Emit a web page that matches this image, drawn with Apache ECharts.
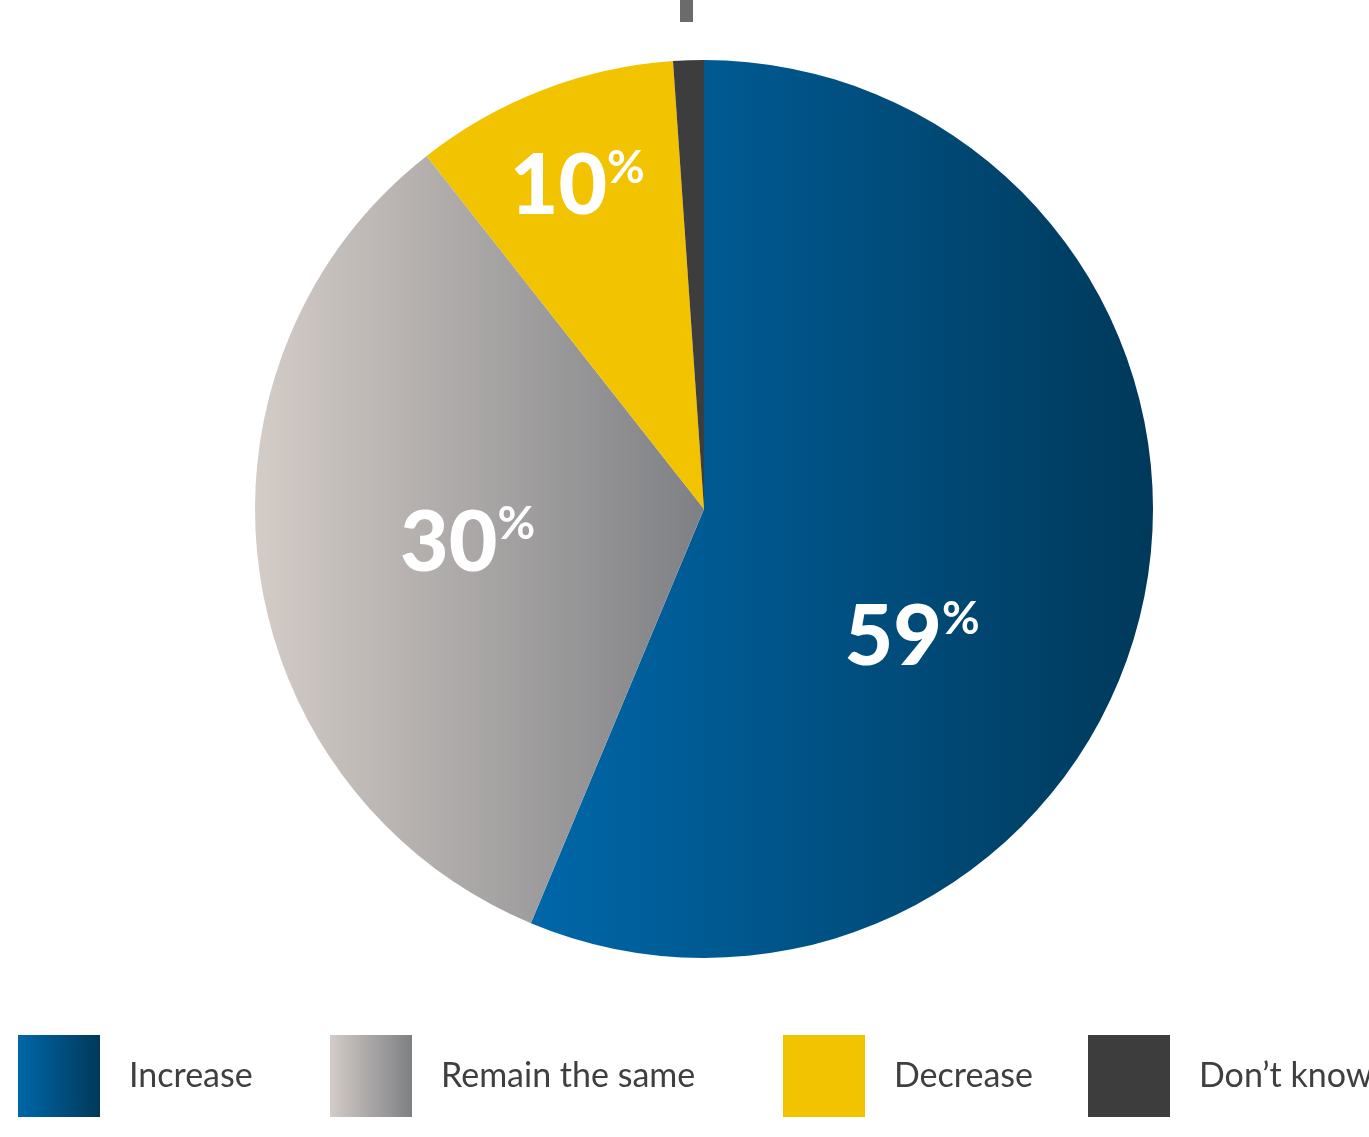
<!DOCTYPE html>
<html>
<head>
<meta charset="utf-8">
<script src="https://cdn.jsdelivr.net/npm/echarts@6/dist/echarts.min.js"></script>
<style>
html,body{margin:0;padding:0;background:#fff;}
#chart{width:1369px;height:1137px;}
</style>
</head>
<body>
<div id="chart"></div>
<script>
// Data
var categories = ['Increase', 'Remain the same', 'Decrease', 'Don\u2019t know'];
var shares = [56.3, 33.1, 9.5, 1.1];          // slice sizes as drawn
var labelTexts = ['59', '30', '10', ''];      // printed percentage labels

var fills = [
  {type:'linear', x:0, y:0, x2:1, y2:0, colorStops:[{offset:0,color:'#0067a9'},{offset:1,color:'#00395a'}]},
  {type:'linear', x:0, y:0, x2:1, y2:0, colorStops:[{offset:0,color:'#d4ccc7'},{offset:1,color:'#7e8084'}]},
  '#f2c300',
  '#3d3d3d'
];
var labelOffsets = [[-15, 84], [-11, 4], [-45, -110], [0, 0]];
var legendLefts = [18, 330, 783, 1088];

var chart = echarts.init(document.getElementById('chart'), null, {renderer:'canvas'});

var data = categories.map(function (c, i) {
  return {
    name: c,
    value: shares[i],
    itemStyle: {color: fills[i]},
    label: {
      show: labelTexts[i] !== '',
      offset: labelOffsets[i],
      formatter: '{n|' + labelTexts[i] + '}{p|%}'
    }
  };
});

var legends = categories.map(function (c, i) {
  return {
    data: [{name: c, icon: 'rect'}],
    left: legendLefts[i],
    top: 1035,
    padding: 0,
    itemWidth: 82,
    itemHeight: 82,
    selectedMode: false,
    textStyle: {
      fontFamily: 'Lato',
      fontSize: 34,
      color: '#3f3f3f',
      padding: [0, 0, 0, 24]
    }
  };
});

chart.setOption({
  animation: false,
  backgroundColor: '#ffffff',
  legend: legends,
  graphic: [{
    type: 'rect',
    shape: {x: 680, y: 0, width: 13, height: 22},
    style: {fill: '#6b6b6b'}
  }],
  series: [{
    type: 'pie',
    center: [704, 509],
    radius: [0, 449],
    startAngle: 90,
    clockwise: true,
    avoidLabelOverlap: false,
    emphasis: {disabled: true},
    label: {
      position: 'inside',
      rich: {
        n: {fontFamily: 'Lato', fontWeight: 900, fontSize: 84, color: '#ffffff', lineHeight: 84},
        p: {fontFamily: 'Lato', fontWeight: 700, fontSize: 46, color: '#ffffff', verticalAlign: 'top', lineHeight: 46}
      }
    },
    labelLine: {show: false},
    data: data
  }]
});
</script>
</body>
</html>
